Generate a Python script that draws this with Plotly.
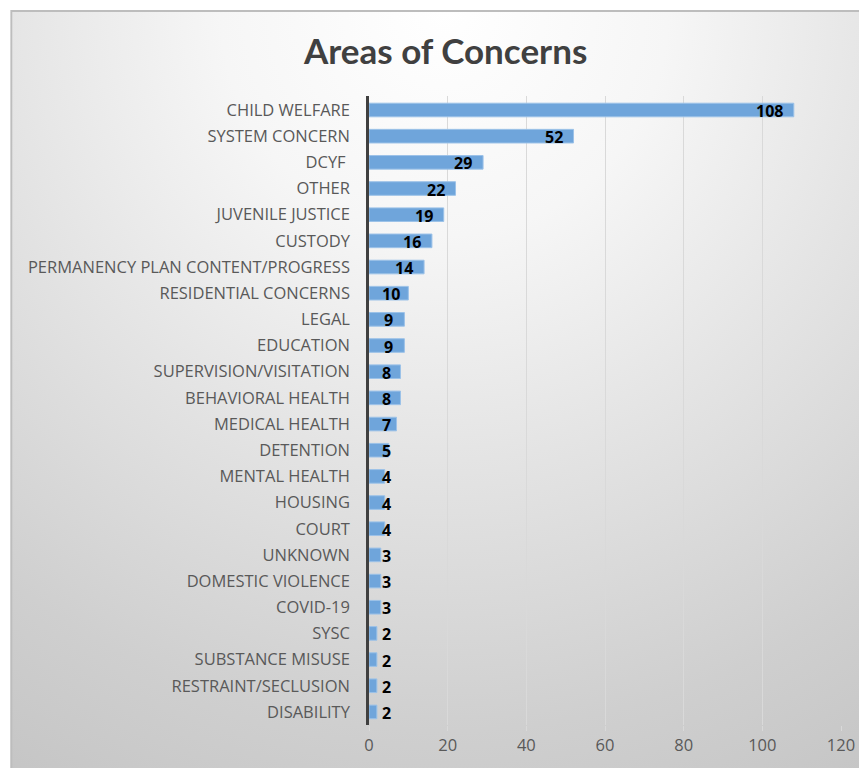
import base64
import plotly.graph_objects as go

categories = ["CHILD WELFARE", "SYSTEM CONCERN", "DCYF\u00a0", "OTHER", "JUVENILE JUSTICE",
              "CUSTODY", "PERMANENCY PLAN CONTENT/PROGRESS", "RESIDENTIAL CONCERNS", "LEGAL",
              "EDUCATION", "SUPERVISION/VISITATION", "BEHAVIORAL HEALTH", "MEDICAL HEALTH",
              "DETENTION", "MENTAL HEALTH", "HOUSING", "COURT", "UNKNOWN", "DOMESTIC VIOLENCE",
              "COVID-19", "SYSC", "SUBSTANCE MISUSE", "RESTRAINT/SECLUSION", "DISABILITY"]
values = [108, 52, 29, 22, 19, 16, 14, 10, 9, 9, 8, 8, 7, 5, 4, 4, 4, 3, 3, 3, 2, 2, 2, 2]
x_ticks = [0, 20, 40, 60, 80, 100, 120]
title_text = "Areas of Concerns"

# page body has an 8px margin; figure pixel = reference pixel - 8
W, H = 859, 760
L, R, T, B = 361, 23, 88, 43
PW, PH = W - L - R, H - T - B
PX_PER_UNIT = PW / 120.0

BOX_X0, BOX_Y0 = 0, 2
BW, BH = W - BOX_X0, H - BOX_Y0
svg = f'''<svg xmlns="http://www.w3.org/2000/svg" width="{BW}" height="{BH}" viewBox="0 0 {BW} {BH}">
<defs><radialGradient id="g" gradientUnits="userSpaceOnUse" cx="437" cy="0" r="900">
<stop offset="0" stop-color="#ffffff"/><stop offset="0.25" stop-color="#f6f6f6"/>
<stop offset="0.5" stop-color="#e4e4e4"/><stop offset="0.8" stop-color="#cfcfcf"/>
<stop offset="1" stop-color="#c4c4c4"/></radialGradient></defs>
<rect x="0" y="0" width="{BW}" height="{BH}" fill="url(#g)"/>
<rect x="1" y="1" width="{BW + 10}" height="{BH + 10}" fill="none" stroke="#bdbdbd" stroke-width="2"/>
</svg>'''
svg_uri = "data:image/svg+xml;base64," + base64.b64encode(svg.encode()).decode()

fig = go.Figure()
fig.add_trace(go.Bar(
    x=values, y=categories, orientation="h",
    marker=dict(color="#6fa5db", line=dict(color="#9cc2e8", width=1)),
    hoverinfo="skip",
))

label_font = dict(family="Open Sans", size=16, color="#000000", weight="bold")
annotations = []
for c, v in zip(categories, values):
    w = len(str(v)) * 9.5
    if v * PX_PER_UNIT - 12 >= 14 + w:
        annotations.append(dict(x=v, y=c, xref="x", yref="y", text=str(v), showarrow=False,
                                xanchor="right", xshift=-9, yshift=-1, font=label_font))
    else:
        annotations.append(dict(x=0, y=c, xref="x", yref="y", text=str(v), showarrow=False,
                                xanchor="left", xshift=11, yshift=-1, font=label_font))

annotations.append(dict(x=(437 - L) / PW, y=(H - B - 42) / PH, xref="paper", yref="paper",
                        text=title_text, showarrow=False, xanchor="center", yanchor="middle",
                        font=dict(family="Lato", size=35, color="#404040", weight="bold")))

fig.update_layout(
    width=W, height=H,
    margin=dict(l=L, r=R, t=T, b=B),
    paper_bgcolor="#ffffff", plot_bgcolor="rgba(0,0,0,0)",
    bargap=0.48,
    showlegend=False,
    annotations=annotations,
    images=[dict(source=svg_uri, xref="paper", yref="paper",
                 x=(BOX_X0 - L) / PW, y=1 + (T - BOX_Y0) / PH,
                 sizex=BW / PW, sizey=BH / PH,
                 xanchor="left", yanchor="top", sizing="stretch", layer="below")],
    xaxis=dict(range=[0, 120], tickvals=x_ticks, showgrid=True, gridcolor="#d9d9d9", gridwidth=1,
               zeroline=False, showline=False, ticks="outside", ticklen=5, tickcolor="#d9d9d9",
               tickfont=dict(family="Open Sans", size=16.5, color="#595959"), fixedrange=True),
    yaxis=dict(categoryorder="array", categoryarray=categories, autorange="reversed",
               showline=True, linecolor="#404040", linewidth=2.5, showgrid=False, ticks="",
               ticklabelstandoff=13,
               tickfont=dict(family="Open Sans", size=16.5, color="#595959"), fixedrange=True),
)

fig.write_html("out.html")
